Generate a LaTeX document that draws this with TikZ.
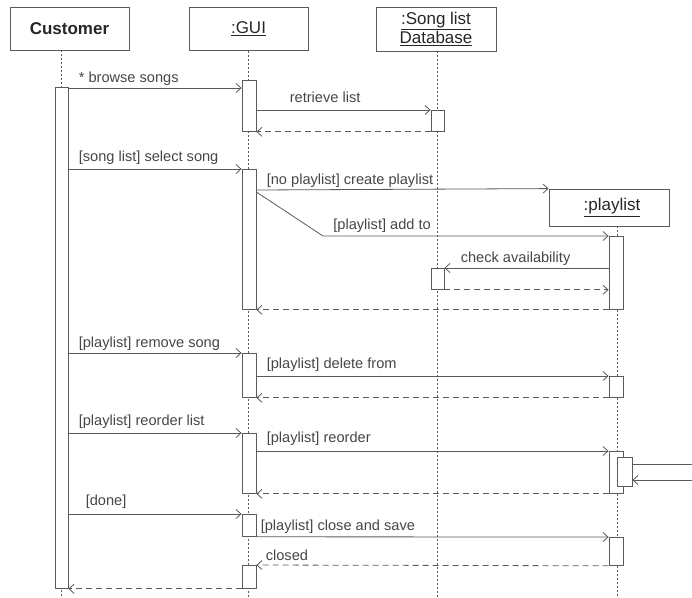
\documentclass[tikz,border=0pt]{standalone}
\usepackage{fontspec}
\setmainfont{Liberation Sans}
\usepackage{xcolor}
\definecolor{linegray}{RGB}{90,90,90}
\definecolor{textgray}{RGB}{70,70,70}
\usepackage{tikz}
\usetikzlibrary{arrows.meta}
\usetikzlibrary{positioning}
\tikzset{
    head/.style={draw=linegray, line width=0.8pt, rectangle, minimum width=119pt, minimum height=43pt, inner sep=2pt, text=black!85, font=\fontsize{17}{19.5}\selectfont},
    lifeline/.style={draw=linegray, line width=0.8pt, dash pattern=on 2pt off 2pt},
    bar/.style={draw=linegray, line width=0.8pt, fill=white, rectangle, minimum width=14pt, inner sep=0pt, anchor=north},
    call/.style={draw=linegray, line width=0.8pt},
    msg/.style={call, -{Straight Barb[length=5pt, width=9pt]}},
    ret/.style={msg, dash pattern=on 6pt off 4pt},
    lbl/.style={anchor=base west, inner sep=0pt, yshift=6pt, text=textgray, font=\fontsize{14.6}{16}\selectfont}
}

\begin{document}
\begin{tikzpicture}[x=1pt, y=-1pt]
      \useasboundingbox (0,0) rectangle (692,597);

      \path
          node[head] (customer) at (69.5,28.5) {\textbf{Customer}}
          node[head] (gui) at (248.5,29) {\underline{:GUI}}
          node[head, minimum width=120pt, minimum height=44pt, align=center] (songdb) at (436,29) {\underline{:Song list}\\\underline{Database}}
          node[head, minimum width=120pt, minimum height=37pt] (playlist) at (609,207.5) {\hspace*{6pt}\underline{:playlist}};

      \path
          coordinate (cust-end) at (61,597)
          coordinate (gui-end) at (248,597)
          coordinate (db-end) at (437,597)
          coordinate (pl-end) at (617,597)
          coordinate (bend) at (323,236)
          coordinate (self-out) at (692,464)
          coordinate (self-in) at (692,480);

      \draw[lifeline] (cust-end |- customer.south) -- (cust-end);
      \draw[lifeline] (gui-end |- gui.south) -- (gui-end);
      \draw[lifeline] (db-end |- songdb.south) -- (db-end);
      \draw[lifeline] (pl-end |- playlist.south) -- (pl-end);

      \path
          node[bar, minimum width=13pt, minimum height=501pt] (cust-bar) at (61.5,87) {}
          node[bar, minimum height=51pt] (gui-a) at (249,80) {}
          node[bar, minimum height=140pt] (gui-b) at (249,169) {}
          node[bar, minimum height=44pt] (gui-c) at (249,353) {}
          node[bar, minimum height=60pt] (gui-d) at (249,433) {}
          node[bar, minimum height=22pt] (gui-e) at (249,514) {}
          node[bar, minimum height=23pt] (gui-f) at (249,565) {}
          node[bar, minimum width=13pt, minimum height=21pt] (db-a) at (437.5,110) {}
          node[bar, minimum width=13pt, minimum height=21pt] (db-b) at (437.5,268) {}
          node[bar, minimum height=73pt] (pl-a) at (616,236) {}
          node[bar, minimum height=21pt] (pl-b) at (616,376) {}
          node[bar, minimum height=42pt] (pl-c) at (616,451) {}
          node[bar, minimum width=15pt, minimum height=29pt] (pl-c-self) at (624.5,457) {}
          node[bar, minimum height=28pt] (pl-d) at (616,537) {};

      \draw[msg] (cust-bar.east |- 0,88) -- node[lbl, at start, xshift=10pt] {* browse songs} (gui-a.west |- 0,88);
      \draw[msg] (gui-a.east |- 0,110) -- node[lbl, at start, xshift=33pt, yshift=2pt] {retrieve list} (db-a.north west);
      \draw[ret] (db-a.south west) -- (gui-a.south east);

      \draw[msg] (cust-bar.east |- 0,169) -- node[lbl, at start, xshift=10pt, yshift=2pt] {[song list] select song} (gui-b.north west);
      \draw[msg] (gui-b.east |- 0,190) -- node[lbl, at start, xshift=10pt] {[no playlist] create playlist} (playlist.north west);
      \draw[msg] (gui-b.east |- 0,192) -- (bend) -- node[lbl, at start, xshift=10pt, yshift=1pt] {[playlist] add to} (pl-a.north west);
      \draw[msg] (pl-a.west |- 0,268) -- node[lbl, at end, xshift=16pt] {check availability} (db-b.north east);
      \draw[ret] (db-b.south east) -- (pl-a.west |- db-b.south);
      \draw[ret] (pl-a.south west) -- (gui-b.south east);

      \draw[msg] (cust-bar.east |- 0,353) -- node[lbl, at start, xshift=10pt] {[playlist] remove song} (gui-c.north west);
      \draw[msg] (gui-c.east |- 0,376) -- node[lbl, at start, xshift=10pt, yshift=2pt] {[playlist] delete from} (pl-b.north west);
      \draw[ret] (pl-b.south west) -- (gui-c.south east);

      \draw[msg] (cust-bar.east |- 0,433) -- node[lbl, at start, xshift=10pt, yshift=2pt] {[playlist] reorder list} (gui-d.north west);
      \draw[msg] (gui-d.east |- 0,451) -- node[lbl, at start, xshift=10pt, yshift=3pt] {[playlist] reorder} (pl-c.north west);
      \draw[call] (pl-c-self.east |- self-out) -- (self-out);
      \draw[msg] (self-in) -- (pl-c-self.east |- self-in);
      \draw[ret] (pl-c.south west) -- (gui-d.south east);

      \draw[msg] (cust-bar.east |- 0,514) -- node[lbl, at start, xshift=17pt, yshift=3pt] {[done]} (gui-e.north west);
      \draw[msg] (gui-e.south east) -- node[lbl, at start, xshift=4pt] {[playlist] close and save} (pl-d.north west);
      \draw[ret] (pl-d.south west) -- node[lbl, at end, xshift=9pt, yshift=-1pt] {closed} (gui-f.north east);
      \draw[ret] (gui-f.south west) -- (cust-bar.south east);
\end{tikzpicture}
\end{document}
